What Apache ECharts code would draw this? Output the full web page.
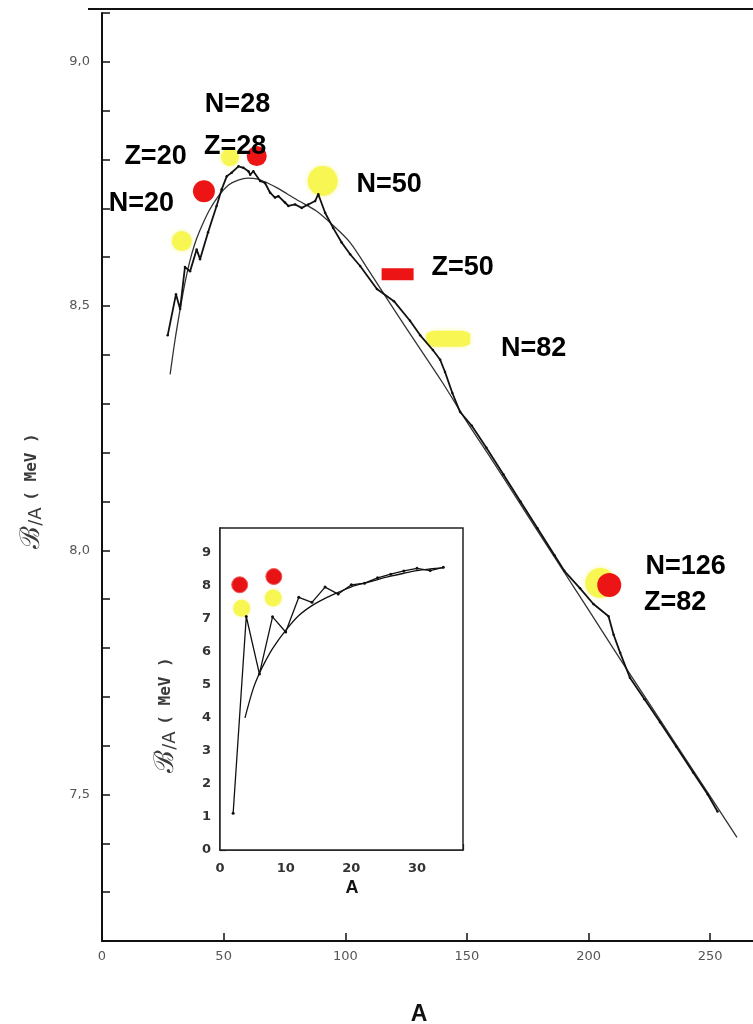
<!DOCTYPE html>
<html>
<head>
<meta charset="utf-8">
<title>B/A vs A</title>
<script src="https://cdn.jsdelivr.net/npm/echarts@6/dist/echarts.min.js"></script>
<style>
  html, body { margin: 0; padding: 0; background: #fff; }
  #chart { width: 753px; height: 1024px; }
</style>
</head>
<body>
<div id="chart"></div>
<script>
// main plot: smooth (semi-empirical) curve
var fitA = [28, 30, 32, 34, 36, 38, 40, 44, 48, 52, 56, 60, 64, 68, 72, 76, 81, 88, 95, 102, 110, 120, 130, 140, 150, 160, 170, 180, 190, 200, 210, 220, 230, 240, 250, 261]
var fitB = [8.36, 8.43, 8.49, 8.545, 8.59, 8.625, 8.652, 8.695, 8.726, 8.748, 8.758, 8.762, 8.76, 8.752, 8.742, 8.73, 8.715, 8.695, 8.665, 8.63, 8.57, 8.493, 8.418, 8.343, 8.263, 8.187, 8.11, 8.032, 7.955, 7.878, 7.8, 7.724, 7.648, 7.572, 7.496, 7.412]

// main plot: experimental (jagged) curve
var expA = [27, 30.4, 32.1, 34.1, 36.2, 38.9, 40.3, 43.6, 47.1, 49.2, 51.3, 53.3, 56.1, 58.1, 60.2, 60.9, 62.2, 65, 67, 69.1, 71.1, 72.5, 75.2, 76.6, 79.4, 82.1, 84.8, 87.6, 88.9, 91.7, 95, 98.5, 102, 106.1, 113, 120, 126.6, 130.8, 136, 139, 141, 144, 147.2, 152, 158, 165, 172, 179, 186, 190, 196.5, 202, 208.2, 210.3, 213, 217, 223, 229.4, 236, 243, 249, 253]
var expB = [8.44, 8.524, 8.494, 8.58, 8.571, 8.616, 8.596, 8.651, 8.705, 8.739, 8.766, 8.773, 8.786, 8.783, 8.776, 8.769, 8.776, 8.756, 8.752, 8.732, 8.722, 8.725, 8.712, 8.705, 8.708, 8.701, 8.708, 8.715, 8.729, 8.691, 8.66, 8.63, 8.606, 8.582, 8.535, 8.51, 8.47, 8.44, 8.41, 8.39, 8.365, 8.322, 8.283, 8.255, 8.21, 8.155, 8.1, 8.045, 7.99, 7.958, 7.922, 7.89, 7.865, 7.827, 7.79, 7.739, 7.695, 7.648, 7.598, 7.545, 7.5, 7.465]

// magic-number markers on the main plot
var yellowA = [32.8, 52.6, 90.7, 142.3, 204.8]
var yellowB = [8.633, 8.805, 8.756, 8.433, 7.933]
var redA = [41.9, 63.6, 121.5, 208.5]
var redB = [8.735, 8.807, 8.565, 7.929]

// annotations
var noteText = ['N=28', 'Z=28', 'Z=20', 'N=20', 'N=50', 'Z=50', 'N=82', 'N=126', 'Z=82']
var noteA = [55.7, 54.7, 22.0, 16.2, 118.0, 148.2, 177.4, 239.9, 235.6]
var noteB = [8.912, 8.827, 8.806, 8.71, 8.749, 8.579, 8.412, 7.967, 7.892]

// inset: light nuclei
var insetExpA = [2, 4, 6, 8, 10, 12, 14, 16, 18, 20, 22, 24, 26, 28, 30, 32, 34]
var insetExpB = [1.11, 7.07, 5.33, 7.06, 6.6, 7.65, 7.5, 7.96, 7.75, 8.03, 8.08, 8.24, 8.35, 8.45, 8.53, 8.46, 8.56]
var insetFitA = [3.8, 5, 6, 7, 8, 10, 12, 14, 16, 18, 20, 22, 24, 26, 28, 30, 32, 34]
var insetFitB = [4.0, 4.85, 5.35, 5.75, 6.1, 6.65, 7.1, 7.4, 7.62, 7.8, 7.97, 8.08, 8.19, 8.29, 8.38, 8.46, 8.51, 8.55]
var insetYellowA = [3.3, 8.1]
var insetYellowB = [7.32, 7.63]
var insetRedA = [3.0, 8.2]
var insetRedB = [8.03, 8.28]

// tick labels
var mainYTicks = [7.5, 8.0, 8.5, 9.0]
var insetXTicks = [0, 10, 20, 30]

function zip(a, b) {
  return a.map(function(v, i) { return [v, b[i]] })
}

var yellowSize = [20, 18, 30, [44, 16], 30]
var redSize = [22, 20, [32, 12], 24]

var chart = echarts.init(document.getElementById('chart'))

var tickFont = { color: '#555', fontSize: 13, fontFamily: 'DejaVu Sans' }
var insetFont = { color: '#333', fontSize: 13, fontFamily: 'DejaVu Sans', fontWeight: 'bold' }

// rotated B/A (MeV) axis title
function yTitle(x, y) {
  return {
    type: 'text', x: x, y: y, rotation: Math.PI / 2, z: 10,
    style: {
      text: '{b|ℬ}{s|/A}  {m|( MeV )}',
      align: 'center', verticalAlign: 'middle',
      rich: {
        b: { fontSize: 27, fontFamily: 'DejaVu Serif', fill: '#3a3a3a' },
        s: { fontSize: 18, fontFamily: 'DejaVu Sans', fill: '#3a3a3a', verticalAlign: 'bottom' },
        m: { fontSize: 16, fontFamily: 'DejaVu Sans Mono', fontWeight: 'bold', fill: '#3a3a3a' }
      }
    }
  }
}

chart.setOption({
  animation: false,
  backgroundColor: '#fff',
  grid: [
    { left: 102, top: 13, width: 652, height: 928, outerBoundsMode: 'none' },
    { left: 220, top: 528, width: 243, height: 322, outerBoundsMode: 'none', show: true, backgroundColor: '#fff', borderColor: '#222', borderWidth: 1.5, z: 5 }
  ],
  xAxis: [{
    gridIndex: 0,
    type: 'value',
    min: 0,
    max: 268,
    interval: 50,
    axisLine: { lineStyle: { color: '#111', width: 2 } },
    axisTick: { inside: true, length: 8, lineStyle: { color: '#111', width: 1.5 } },
    axisLabel: Object.assign({
      margin: 9,
      formatter: function(v) { return v % 50 === 0 ? String(v) : '' }
    }, tickFont),
    splitLine: { show: false },
    name: 'A',
    nameLocation: 'middle',
    nameGap: 62,
    nameTextStyle: { fontSize: 23, fontWeight: 'bold', color: '#111', fontFamily: 'Liberation Sans', padding: [0, 18, 0, 0] }
  }, {
    gridIndex: 1,
    type: 'value',
    min: 0,
    max: 37,
    interval: 10,
    axisLine: { lineStyle: { color: '#111', width: 1.5 } },
    axisTick: { inside: true, length: 6, lineStyle: { color: '#111', width: 1.2 } },
    axisLabel: Object.assign({
      margin: 12,
      formatter: function(v) { return insetXTicks.indexOf(v) >= 0 ? String(v) : '' }
    }, insetFont),
    splitLine: { show: false },
    name: 'A',
    nameLocation: 'middle',
    nameGap: 29,
    nameTextStyle: { fontSize: 18, fontWeight: 'bold', color: '#111', fontFamily: 'Liberation Sans', padding: [0, 0, 0, 21] }
  }],
  yAxis: [{
    gridIndex: 0,
    type: 'value',
    min: 7.2,
    max: 9.1,
    interval: 0.1,
    axisLine: { show: true, lineStyle: { color: '#111', width: 2 } },
    axisTick: { show: true, inside: true, length: 8, lineStyle: { color: '#111', width: 1.5 } },
    axisLabel: Object.assign({
      margin: 12,
      formatter: function(v) {
        for (var i = 0; i < mainYTicks.length; i++) {
          if (Math.abs(v - mainYTicks[i]) < 1e-6) return mainYTicks[i].toFixed(1).replace('.', ',')
        }
        return ''
      }
    }, tickFont),
    splitLine: { show: false }
  }, {
    gridIndex: 1,
    type: 'value',
    min: 0,
    max: 9.75,
    interval: 1,
    axisLine: { show: true, lineStyle: { color: '#111', width: 1.5 } },
    axisTick: { show: true, inside: true, length: 6, lineStyle: { color: '#111', width: 1.2 } },
    axisLabel: Object.assign({
      margin: 9,
      formatter: function(v) { return Math.abs(v - Math.round(v)) < 1e-6 ? String(Math.round(v)) : '' }
    }, insetFont),
    splitLine: { show: false }
  }],
  graphic: [
    { type: 'line', shape: { x1: 88, y1: 9, x2: 753, y2: 9 }, style: { stroke: '#111', lineWidth: 2 } },
    yTitle(32, 491),
    yTitle(166, 715)
  ],
  series: [
    {
      name: 'yellow',
      type: 'scatter',
      xAxisIndex: 0, yAxisIndex: 0,
      data: zip(yellowA, yellowB).map(function(p, i) {
        return { value: p, symbolSize: yellowSize[i], symbol: Array.isArray(yellowSize[i]) ? 'roundRect' : 'circle' }
      }),
      itemStyle: { color: '#f7f652', opacity: 1, shadowBlur: 5, shadowColor: '#f8f7a0' },
      z: 1
    },
    {
      name: 'red',
      type: 'scatter',
      xAxisIndex: 0, yAxisIndex: 0,
      data: zip(redA, redB).map(function(p, i) {
        return { value: p, symbolSize: redSize[i], symbol: Array.isArray(redSize[i]) ? 'rect' : 'circle' }
      }),
      itemStyle: { color: '#ec1414', opacity: 1 },
      z: 2
    },
    {
      name: 'fit',
      type: 'line',
      xAxisIndex: 0, yAxisIndex: 0,
      data: zip(fitA, fitB),
      smooth: 0.3,
      showSymbol: false,
      lineStyle: { color: '#333', width: 1.3 },
      z: 3
    },
    {
      name: 'exp',
      type: 'line',
      xAxisIndex: 0, yAxisIndex: 0,
      data: zip(expA, expB),
      symbol: 'circle',
      symbolSize: 2.5,
      itemStyle: { color: '#111' },
      lineStyle: { color: '#111', width: 1.8 },
      z: 4
    },
    {
      name: 'notes',
      type: 'scatter',
      xAxisIndex: 0, yAxisIndex: 0,
      symbolSize: 1,
      itemStyle: { color: 'rgba(0,0,0,0)', opacity: 1 },
      data: zip(noteA, noteB).map(function(p, i) { return { value: p, name: noteText[i] } }),
      label: {
        show: true,
        position: 'inside',
        formatter: '{b}',
        fontSize: 27,
        fontWeight: 'bold',
        fontFamily: 'Liberation Sans',
        color: '#000'
      },
      z: 6
    },
    {
      name: 'insetYellow',
      type: 'scatter',
      xAxisIndex: 1, yAxisIndex: 1,
      data: zip(insetYellowA, insetYellowB),
      symbolSize: 17,
      itemStyle: { color: '#f7f652', opacity: 1, shadowBlur: 3, shadowColor: '#f8f7a0' },
      z: 6
    },
    {
      name: 'insetRed',
      type: 'scatter',
      xAxisIndex: 1, yAxisIndex: 1,
      data: zip(insetRedA, insetRedB),
      symbolSize: 16,
      itemStyle: { color: '#e81414', opacity: 1, borderColor: '#f25a5a', borderWidth: 1 },
      z: 6
    },
    {
      name: 'insetExp',
      type: 'line',
      xAxisIndex: 1, yAxisIndex: 1,
      data: zip(insetExpA, insetExpB),
      symbol: 'circle',
      symbolSize: 3,
      itemStyle: { color: '#111' },
      lineStyle: { color: '#111', width: 1.3 },
      z: 7
    },
    {
      name: 'insetFit',
      type: 'line',
      xAxisIndex: 1, yAxisIndex: 1,
      data: zip(insetFitA, insetFitB),
      smooth: 0.3,
      showSymbol: false,
      lineStyle: { color: '#111', width: 1.3 },
      z: 7
    }
  ]
})
</script>
</body>
</html>
